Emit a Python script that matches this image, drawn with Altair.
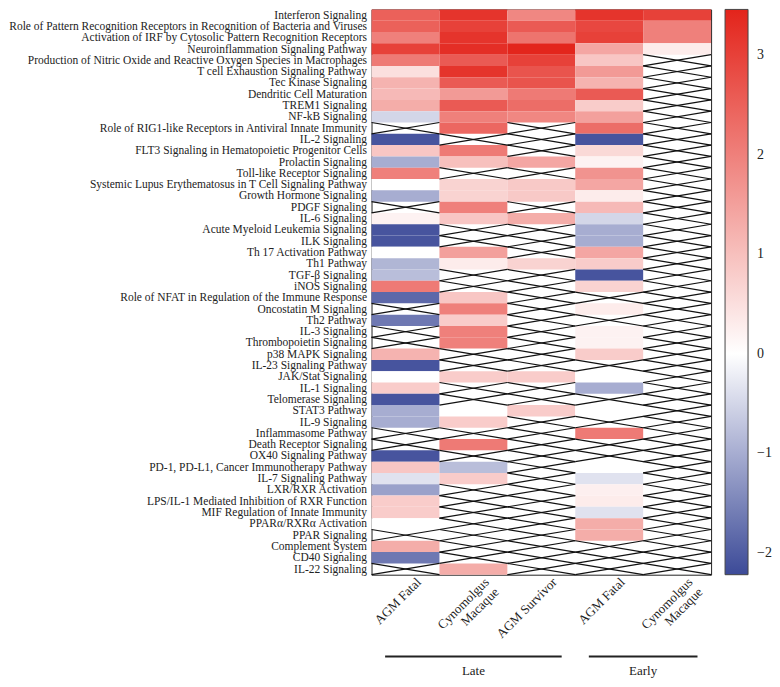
import json
import altair as alt
import pandas as pd

pathways = [
    "Interferon Signaling",
    "Role of Pattern Recognition Receptors in Recognition of Bacteria and Viruses",
    "Activation of IRF by Cytosolic Pattern Recognition Receptors",
    "Neuroinflammation Signaling Pathway",
    "Production of Nitric Oxide and Reactive Oxygen Species in Macrophages",
    "T cell Exhaustion Signaling Pathway",
    "Tec Kinase Signaling",
    "Dendritic Cell Maturation",
    "TREM1 Signaling",
    "NF-kB Signaling",
    "Role of RIG1-like Receptors in Antiviral Innate Immunity",
    "IL-2 Signaling",
    "FLT3 Signaling in Hematopoietic Progenitor Cells",
    "Prolactin Signaling",
    "Toll-like Receptor Signaling",
    "Systemic Lupus Erythematosus in T Cell Signaling Pathway",
    "Growth Hormone Signaling",
    "PDGF Signaling",
    "IL-6 Signaling",
    "Acute Myeloid Leukemia Signaling",
    "ILK Signaling",
    "Th 17 Activation Pathway",
    "Th1 Pathway",
    "TGF-β Signaling",
    "iNOS Signaling",
    "Role of NFAT in Regulation of the Immune Response",
    "Oncostatin M Signaling",
    "Th2 Pathway",
    "IL-3 Signaling",
    "Thrombopoietin Signaling",
    "p38 MAPK Signaling",
    "IL-23 Signaling Pathway",
    "JAK/Stat Signaling",
    "IL-1 Signaling",
    "Telomerase Signaling",
    "STAT3 Pathway",
    "IL-9 Signaling",
    "Inflammasome Pathway",
    "Death Receptor Signaling",
    "OX40 Signaling Pathway",
    "PD-1, PD-L1, Cancer Immunotherapy Pathway",
    "IL-7 Signaling Pathway",
    "LXR/RXR Activation",
    "LPS/IL-1 Mediated Inhibition of RXR Function",
    "MIF Regulation of Innate Immunity",
    "PPARα/RXRα Activation",
    "PPAR Signaling",
    "Complement System",
    "CD40 Signaling",
    "IL-22 Signaling",
]

conditions = ["AGM Fatal", "Cynomolgus Macaque", "AGM Survivor", "AGM Fatal", "Cynomolgus Macaque"]
stages = ["Late", "Late", "Late", "Early", "Early"]
N = None

late_agm_fatal = [
    2.5, 2.5, 2.0, 3.0, 2.1, 0.5, 1.2, 1.1, 1.3, -0.5,
    N, -2.1, 0.9, -1.0, 2.0, 0.0, -1.0, N, 0.2, -2.1,
    -2.1, 0.0, -0.9, -0.8, 2.1, -1.85, N, -1.65, N, N,
    1.2, -2.1, 0.0, 0.8, -2.1, -1.0, -1.0, N, N, -2.1,
    0.9, -0.35, -1.15, 0.8, 0.8, 0.0, N, 1.3, -1.65, N,
]
late_cyno = [
    3.2, 3.0, 3.2, 3.3, 2.6, 3.2, 2.6, 1.6, 2.6, 2.0,
    2.4, N, 2.1, 1.0, N, 0.7, 0.7, 2.0, 0.9, N,
    N, 1.5, 0.3, N, N, 0.9, 2.0, 0.8, 2.0, 2.0,
    N, N, 0.8, N, N, 0.0, 0.8, N, 2.1, N,
    -0.8, 0.8, N, N, N, N, N, N, N, 1.3,
]
late_agm_survivor = [
    1.9, 2.6, 2.2, 3.45, 3.0, 2.7, 2.7, 2.1, 2.3, 1.9,
    N, N, N, 1.4, N, 0.85, 0.85, N, 1.3, N,
    N, N, 0.7, N, N, N, N, N, N, N,
    N, N, 0.8, N, N, 0.8, N, N, N, N,
    N, N, N, N, N, N, N, N, N, N,
]
early_agm_fatal = [
    3.2, 2.9, 3.0, 1.4, 0.9, 1.6, 1.2, 2.6, 0.8, 1.5,
    2.3, -2.1, 0.6, 0.2, 1.7, 1.4, 0.3, 1.1, -0.5, -1.0,
    -1.0, 1.4, 0.8, -2.1, 0.7, N, 0.3, N, 0.2, 0.2,
    0.8, N, 0.0, -1.0, N, 0.0, N, 2.1, N, N,
    0.0, -0.35, 0.25, 0.3, -0.35, 1.3, 1.3, N, N, N,
]
early_cyno = [
    3.0, 2.0, 2.0, 0.3, N, N, N, N, N, N,
    N, N, N, N, N, N, N, N, N, N,
    N, N, N, N, N, N, N, N, N, N,
    N, N, N, N, N, N, N, N, N, N,
    N, N, N, N, N, N, N, N, N, N,
]
column_values = [late_agm_fatal, late_cyno, late_agm_survivor, early_agm_fatal, early_cyno]

records = []
for ci, vals in enumerate(column_values):
    for ri, v in enumerate(vals):
        records.append({
            "x0": ci, "x1": ci + 1, "y0": ri, "y1": ri + 1,
            "value": v, "missing": v is None,
            "pathway": pathways[ri], "condition": conditions[ci], "stage": stages[ci],
        })
df = pd.DataFrame(records)
cells = df[~df["missing"]].copy()
na = df[df["missing"]].copy()

group_rows = []
for s in ["Late", "Early"]:
    idx = [i for i, g in enumerate(stages) if g == s]
    start, end = idx[0] + 0.2, idx[-1] + 1 - 0.2
    group_rows.append({"stage": s, "start": start, "end": end, "mid": (start + end) / 2})
gdf = pd.DataFrame(group_rows)

W, H = 340, 566
FONT = "Liberation Serif"
nrow = len(pathways)
ncol = len(conditions)

ylabels = json.dumps(pathways, ensure_ascii=False)
xlabels = json.dumps([c.split(" ") if c.startswith("Cynomolgus") else c for c in conditions])

xs = alt.Scale(domain=[0, ncol], nice=False, zero=False)
ys = alt.Scale(domain=[0, nrow], nice=False, zero=False, reverse=True)
cs = alt.Scale(domain=[-2.22, 0, 3.46], range=["#3c4a98", "#ffffff", "#e3241b"], interpolate="rgb")

xaxis = alt.Axis(
    values=[i + 0.5 for i in range(ncol)],
    labelExpr=f"{xlabels}[floor(datum.value)]",
    labelAngle=-45, labelAlign="right", labelBaseline="middle",
    labelFont=FONT, labelFontSize=13, labelColor="#222",
    ticks=False, domain=False, grid=False, labelPadding=5, labelOffset=13,
    labelOverlap=False, labelFlush=False, labelLineHeight=14, labelLimit=400,
)
yaxis = alt.Axis(
    values=[i + 0.5 for i in range(nrow)],
    labelExpr=f"{ylabels}[floor(datum.value)]",
    labelFont=FONT, labelFontSize=11.5, labelColor="#222",
    ticks=False, domain=False, grid=False, labelPadding=5,
    labelOverlap=False, labelFlush=False, labelLimit=400, labelSeparation=0,
)
legend = alt.Legend(
    title=None, values=[-2, -1, 0, 1, 2, 3], format="d",
    gradientLength=H, gradientThickness=23, direction="vertical", orient="right",
    labelFont=FONT, labelFontSize=14, labelColor="#222", labelOffset=9,
    gradientStrokeColor="#444", gradientStrokeWidth=1, offset=14,
)

rect = alt.Chart(cells).mark_rect().encode(
    x=alt.X("x0:Q", scale=xs, axis=xaxis, title=None),
    x2="x1",
    y=alt.Y("y0:Q", scale=ys, axis=yaxis, title=None),
    y2="y1",
    color=alt.Color("value:Q", scale=cs, legend=legend),
)
cross1 = alt.Chart(na).mark_rule(color="#111", strokeWidth=1.2).encode(
    x=alt.X("x0:Q", scale=xs, axis=xaxis, title=None), x2="x1",
    y=alt.Y("y0:Q", scale=ys, axis=yaxis, title=None), y2="y1",
)
cross2 = alt.Chart(na).mark_rule(color="#111", strokeWidth=1.2).encode(
    x=alt.X("x0:Q", scale=xs, axis=xaxis, title=None), x2="x1",
    y=alt.Y("y1:Q", scale=ys, axis=yaxis, title=None), y2="y0",
)
grule = alt.Chart(gdf).mark_rule(color="#222", strokeWidth=2).encode(
    x=alt.X("start:Q", scale=xs, axis=xaxis, title=None), x2="end", y=alt.value(H + 82),
)
gtext = alt.Chart(gdf).mark_text(font=FONT, fontSize=13, color="#222", baseline="middle").encode(
    x=alt.X("mid:Q", scale=xs, axis=xaxis, title=None), y=alt.value(H + 96), text="stage:N",
)

chart = alt.layer(rect, cross1, cross2, grule, gtext).properties(
    width=W, height=H, padding=0, background="white",
).configure_view(stroke="#222", strokeWidth=1).configure_axis(labelOverlap=False)

chart.save("out.html", embed_options={"renderer": "svg", "actions": False})
